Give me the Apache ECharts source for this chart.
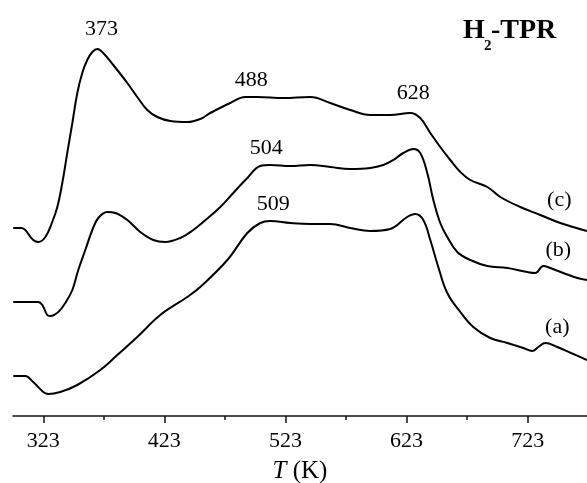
<!DOCTYPE html>
<html><head><meta charset="utf-8">
<script src="https://cdn.jsdelivr.net/npm/echarts@6/dist/echarts.min.js"></script>
<style>html,body{margin:0;padding:0;background:#fff}#c{width:587px;height:483px}</style>
</head><body><div id="c"></div>
<script>
// Temperature (K) vs H2 consumption signal (arbitrary units, curves offset vertically)
const curveA = [
  [298.2,40],[308.1,40],[314.7,34],[323,24],[327.1,22],[337,24],[351.1,31],[370.1,46],[384.1,61],
  [400.6,79],[419.6,101],[441.9,119],[452.6,129],[475,156],[491.5,183],[502.2,193],[510.5,195],
  [527,193],[543.5,192],[560,192],[576.5,188],[593,185],[609.5,187],[623.5,199],[630.2,202],
  [636.8,196],[642.6,176],[649.2,149],[656.6,123],[667.4,104],[678.1,89],[692.1,78],[706.2,73],
  [719.4,68],[726.8,65],[731.8,69],[737.6,73],[747.5,69],[760.7,62],[772,56]
];
const curveB = [
  [298.2,114],[318.9,114],[322.2,111],[326.3,101],[328.8,100],[335.4,104],[341.2,113],[347,126],
  [351.9,146],[357.7,166],[363.5,186],[368.4,198],[375.9,204],[382.5,203],[392.4,196],[403.1,184],
  [413.8,176],[423.7,174],[436.1,178],[446.9,186],[455.1,194],[469.2,209],[479.9,223],[491.5,238],
  [502.2,250],[510.5,251],[527,250],[543.5,251],[560,249],[576.5,247],[593,248],[603.8,251],
  [612.1,256],[620.3,263],[628.6,267],[634.3,263],[640.1,243],[645.1,216],[650.8,193],[656.6,179],
  [664.9,164],[675.6,156],[689.7,150],[706.2,148],[722.7,144],[729.3,143],[735.9,150],[741.7,148],
  [752.4,143],[764,138],[772,136]
];
const curveC = [
  [298.2,188],[304.8,188],[314.7,176],[318.9,174],[324.7,179],[330.4,194],[334.6,209],[338.7,233],
  [342.8,263],[347,293],[351.1,323],[355.2,343],[359.3,356],[363.5,364],[367.6,367],[372.5,363],
  [380.8,351],[392.4,333],[400.6,319],[408.9,306],[417.1,299],[427.9,295],[441.9,294],[452.6,297],
  [460.9,303],[477.4,313],[489.8,319],[499.7,319],[521.2,318],[543.5,319],[560,313],[576.5,306],
  [593,301],[609.5,301],[626,303],[634.3,298],[642.6,283],[650.8,269],[659.1,256],[667.4,244],
  [675.6,236],[689.7,229],[700.4,219],[716.9,209],[733.4,201],[749.9,193],[772,185]
];
const xTicks = [323, 423, 523, 623, 723];
const xMinorTicks = [373, 473, 573, 673];
const peakTexts = ['373', '488', '504', '509', '628'];
const curveTexts = ['(a)', '(b)', '(c)'];

// annotation anchor points (data coordinates)
const peakAt = [[371,387],[494.8,336],[507.2,268],[513,212],[628.6,323]];
const curveAt = [[747.5,89],[748.3,166],[749.1,216]];

const FONT = '"Liberation Serif","Times New Roman",serif';
const chart = echarts.init(document.getElementById('c'), null, {renderer: 'canvas'});
const lineStyle = {color: '#000', width: 2};
const mk = (name, data) => ({
  name, type: 'line', data, showSymbol: false, smooth: 0.4,
  lineStyle, xAxisIndex: 0, yAxisIndex: 0, animation: false, silent: true
});

chart.setOption({
  animation: false,
  backgroundColor: '#fff',
  grid: {left: 13, right: 0, top: 0, bottom: 67, containLabel: false, outerBoundsMode: 'none'},
  xAxis: [{
    type: 'value', min: 298, max: 772, position: 'bottom',
    axisLine: {show: true, lineStyle: {color: '#111', width: 1.5}},
    axisTick: {show: true, customValues: xTicks, length: 7, lineStyle: {color: '#111', width: 1.5}},
    axisLabel: {show: true, customValues: xTicks, color: '#000', fontSize: 22, fontFamily: FONT, margin: 14},
    splitLine: {show: false},
    name: '{i|T} (K)', nameLocation: 'middle', nameGap: 43,
    nameTextStyle: {color: '#000', fontSize: 25, fontFamily: FONT,
      rich: {i: {fontStyle: 'italic', fontSize: 25, fontFamily: FONT, color: '#000'}}}
  }, {
    type: 'value', min: 298, max: 772, position: 'bottom',
    axisLine: {show: false},
    axisTick: {show: true, customValues: xMinorTicks, length: 4, lineStyle: {color: '#111', width: 1.5}},
    axisLabel: {show: false},
    splitLine: {show: false}
  }],
  yAxis: {type: 'value', min: 0, max: 416, show: false, splitLine: {show: false}},
  series: [mk('a', curveA), mk('b', curveB), mk('c', curveC)]
});

const texts = [];
peakTexts.forEach((t, i) => {
  const p = chart.convertToPixel({xAxisIndex: 0, yAxisIndex: 0}, peakAt[i]);
  texts.push({type: 'text', x: p[0], y: p[1], silent: true,
    style: {text: t, fill: '#000', fontSize: 22, fontFamily: FONT, align: 'center', verticalAlign: 'middle'}});
});
curveTexts.forEach((t, i) => {
  const p = chart.convertToPixel({xAxisIndex: 0, yAxisIndex: 0}, curveAt[i]);
  texts.push({type: 'text', x: p[0], y: p[1], silent: true,
    style: {text: t, fill: '#000', fontSize: 22, fontFamily: FONT, align: 'center', verticalAlign: 'middle'}});
});
// Title H2-TPR
texts.push({type: 'text', x: 463, y: 31, silent: true,
  style: {text: 'H', fill: '#000', fontSize: 28, fontWeight: 'bold', fontFamily: FONT, align: 'left', verticalAlign: 'middle'}});
texts.push({type: 'text', x: 484, y: 46, silent: true,
  style: {text: '2', fill: '#000', fontSize: 15, fontWeight: 'bold', fontFamily: FONT, align: 'left', verticalAlign: 'middle'}});
texts.push({type: 'text', x: 491, y: 31, silent: true,
  style: {text: '-TPR', fill: '#000', fontSize: 28, fontWeight: 'bold', fontFamily: FONT, align: 'left', verticalAlign: 'middle'}});
chart.setOption({graphic: texts});
</script>
</body></html>
